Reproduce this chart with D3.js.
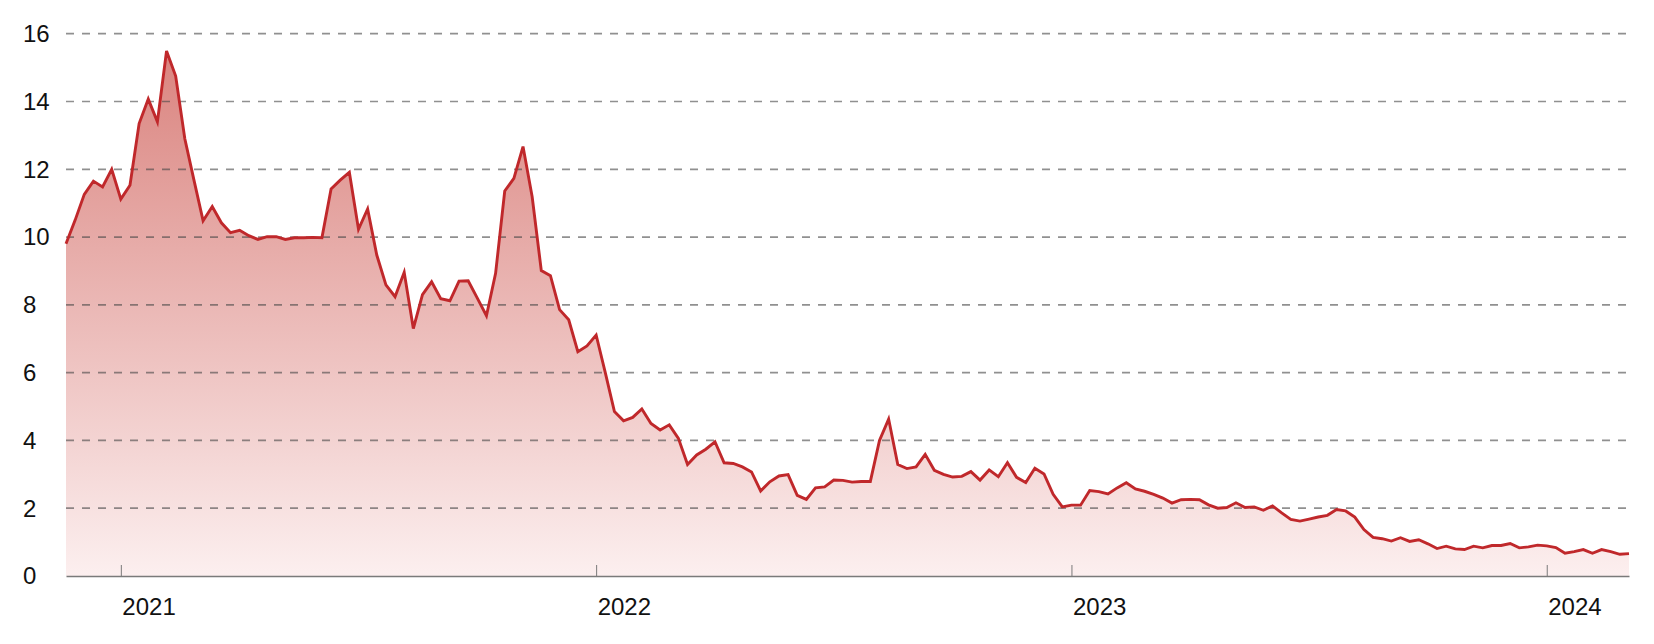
<!DOCTYPE html>
<html>
<head>
<meta charset="utf-8">
<script src="https://cdn.jsdelivr.net/npm/d3@7"></script>
<style>
  html, body { margin: 0; padding: 0; background: #ffffff; }
  svg { display: block; }
  text { font-family: "Liberation Sans", Arial, "Noto Sans", sans-serif; fill: #111111; }
</style>
</head>
<body>
<svg id="chart" width="1654" height="644"></svg>
<script>
// ---- data ----
const startDate = "2020-11-20";           // first weekly observation
const stepDays = 7;                        // weekly series
const values = [
  9.8, 10.5, 11.26, 11.65, 11.48, 12.0, 11.12, 11.53, 13.35, 14.07,
  13.4, 15.49, 14.75, 12.9, 11.68, 10.48, 10.9, 10.42, 10.13, 10.2,
  10.04, 9.93, 10.01, 10.01, 9.93, 9.98, 9.98, 9.99, 9.98, 11.42,
  11.68, 11.91, 10.23, 10.83, 9.47, 8.59, 8.24, 8.96, 7.3, 8.3,
  8.68, 8.18, 8.12, 8.7, 8.71, 8.2, 7.68, 8.93, 11.36, 11.73,
  12.67, 11.19, 9.01, 8.86, 7.86, 7.56, 6.62, 6.79, 7.11, 6.0,
  4.85, 4.58, 4.68, 4.93, 4.5, 4.31, 4.46, 4.06, 3.29, 3.57,
  3.74, 3.96, 3.34, 3.32, 3.22, 3.07, 2.51, 2.78, 2.95, 2.99,
  2.38, 2.26, 2.6, 2.63, 2.83, 2.82, 2.77, 2.79, 2.79, 4.0,
  4.63, 3.29, 3.17, 3.22, 3.59, 3.12, 3.0, 2.92, 2.94, 3.08,
  2.83, 3.13, 2.93, 3.34, 2.91, 2.76, 3.18, 3.01, 2.41, 2.04,
  2.09, 2.09, 2.52, 2.49, 2.42, 2.6, 2.75, 2.57, 2.5, 2.41,
  2.3, 2.15, 2.25, 2.26, 2.25, 2.1, 2.0, 2.02, 2.16, 2.02,
  2.04, 1.94, 2.07, 1.86, 1.67, 1.62, 1.68, 1.74, 1.79, 1.96,
  1.92, 1.74, 1.37, 1.14, 1.1, 1.03, 1.13, 1.02, 1.07, 0.95,
  0.81, 0.88, 0.8, 0.78, 0.88, 0.83, 0.9, 0.9, 0.96, 0.83,
  0.86, 0.91, 0.89, 0.84, 0.67, 0.72, 0.78, 0.67, 0.78, 0.72,
  0.64, 0.66
];
const xTickDates = ["2021-01-01", "2021-12-31", "2022-12-30", "2023-12-29"];
const xTickLabels = ["2021", "2022", "2023", "2024"];
const yTicks = [0, 2, 4, 6, 8, 10, 12, 14, 16];

// ---- build ----
const parse = d3.utcParse("%Y-%m-%d");
const t0 = parse(startDate);
const data = values.map((v, i) => ({ date: d3.utcDay.offset(t0, i * stepDays), value: v }));

const margin = { left: 66, right: 25, top: 33.7, bottom: 68 };
const W = 1654, H = 644;
const svg = d3.select("#chart");

const x = d3.scaleUtc()
  .domain(d3.extent(data, d => d.date))
  .range([margin.left, W - margin.right]);
const y = d3.scaleLinear()
  .domain([0, 16])
  .range([H - margin.bottom, margin.top]);

// gradient
const defs = svg.append("defs");
const grad = defs.append("linearGradient")
  .attr("id", "areaGrad")
  .attr("gradientUnits", "userSpaceOnUse")
  .attr("x1", 0).attr("x2", 0)
  .attr("y1", y(16)).attr("y2", y(0));
grad.append("stop").attr("offset", "0%").attr("stop-color", "#d9807b");
grad.append("stop").attr("offset", "100%").attr("stop-color", "#fcefef");

// area
const area = d3.area()
  .x(d => x(d.date))
  .y0(y(0))
  .y1(d => y(d.value));
svg.append("path")
  .datum(data)
  .attr("d", area)
  .attr("fill", "url(#areaGrad)");

// gridlines (dashed)
svg.append("g")
  .selectAll("line")
  .data(yTicks.filter(d => d > 0))
  .join("line")
  .attr("x1", margin.left)
  .attr("x2", W - margin.right)
  .attr("y1", d => y(d))
  .attr("y2", d => y(d))
  .attr("stroke", "rgba(70,70,70,0.6)")
  .attr("stroke-width", 1.7)
  .attr("stroke-dasharray", "8,8");

// y labels
svg.append("g")
  .selectAll("text")
  .data(yTicks)
  .join("text")
  .attr("x", 23)
  .attr("y", d => y(d))
  .attr("dy", "0.35em")
  .attr("font-size", 24)
  .text(d => d);

// x axis
const xAxis = d3.axisBottom(x)
  .tickValues(xTickDates.map(parse))
  .tickFormat((d, i) => xTickLabels[i])
  .tickSize(-11)
  .tickSizeOuter(0);
const gx = svg.append("g")
  .attr("transform", `translate(0,${y(0)})`)
  .call(xAxis);
gx.select(".domain")
  .attr("stroke", "#7a7a7a")
  .attr("stroke-width", 1.7);
gx.selectAll(".tick line")
  .attr("stroke", "#7a7a7a")
  .attr("stroke-width", 1);
gx.selectAll(".tick text")
  .attr("text-anchor", "start")
  .attr("x", 1)
  .attr("y", 39)
  .attr("dy", 0)
  .attr("font-size", 24)
  .attr("font-family", "'Liberation Sans', Arial, sans-serif")
  .attr("fill", "#111111");

// line
const line = d3.line()
  .x(d => x(d.date))
  .y(d => y(d.value));
svg.append("path")
  .datum(data)
  .attr("d", line)
  .attr("fill", "none")
  .attr("stroke", "#c0282b")
  .attr("stroke-width", 2.9)
  .attr("stroke-linejoin", "miter")
  .attr("stroke-miterlimit", 4);
</script>
</body>
</html>
